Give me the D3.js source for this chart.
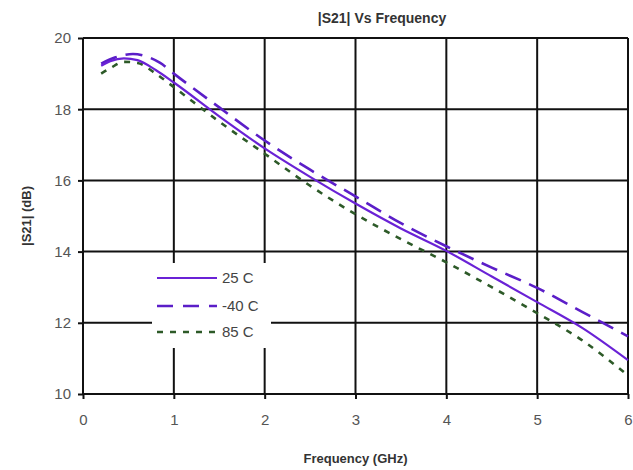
<!DOCTYPE html>
<html>
<head>
<meta charset="utf-8">
<script src="https://cdn.jsdelivr.net/npm/d3@7"></script>
<style>
  body { margin: 0; background: #fff; }
  svg { font-family: "Liberation Sans", Arial, sans-serif; }
</style>
</head>
<body>
<div id="chart"></div>
<script>
// frequency points (GHz) and |S21| (dB) per temperature
const freq25 = [0.2, 0.3, 0.45, 0.6, 0.8, 1, 1.5, 2, 2.5, 3, 3.5, 4, 4.5, 5, 5.5, 6];
const s21_25 = [19.22, 19.35, 19.43, 19.38, 19.1, 18.75, 17.8, 16.9, 16.1, 15.35, 14.65, 14.02, 13.3, 12.58, 11.85, 10.95];

const freqM40 = [0.2, 0.35, 0.55, 0.7, 0.85, 1, 1.5, 2, 2.5, 3, 3.5, 4, 4.5, 5, 5.5, 6];
const s21_m40 = [19.28, 19.45, 19.55, 19.48, 19.3, 19.0, 18.05, 17.12, 16.3, 15.55, 14.8, 14.15, 13.55, 12.98, 12.3, 11.62];

const freq85 = [0.2, 0.3, 0.45, 0.6, 0.8, 1, 1.5, 2, 2.5, 3, 3.5, 4, 4.5, 5, 5.5, 6];
const s21_85 = [19.0, 19.15, 19.33, 19.3, 19.0, 18.62, 17.65, 16.75, 15.85, 15.05, 14.35, 13.7, 13.0, 12.27, 11.5, 10.52];

const xTicks = [0, 1, 2, 3, 4, 5, 6];
const yTicks = [10, 12, 14, 16, 18, 20];
const seriesNames = ["25 C", "-40 C", "85 C"];

const width = 633, height = 470;
const margin = { top: 38, right: 5, bottom: 76, left: 83 };

const svg = d3.select("#chart").append("svg")
  .attr("width", width)
  .attr("height", height);

const x = d3.scaleLinear().domain([0, 6]).range([margin.left, width - margin.right]);
const y = d3.scaleLinear().domain([10, 20]).range([height - margin.bottom, margin.top]);

// grid
const grid = svg.append("g").attr("stroke", "#111").attr("stroke-width", 2);
grid.selectAll(".vg").data(xTicks).enter().append("line")
  .attr("x1", d => x(d)).attr("x2", d => x(d))
  .attr("y1", y(10)).attr("y2", y(20));
grid.selectAll(".hg").data(yTicks).enter().append("line")
  .attr("x1", x(0)).attr("x2", x(6))
  .attr("y1", d => y(d)).attr("y2", d => y(d));

// axes (tick marks + labels)
const xAxis = svg.append("g")
  .attr("transform", `translate(0,${y(10)})`)
  .call(d3.axisBottom(x).tickValues(xTicks).tickSize(5).tickPadding(15).tickFormat(d3.format("d")));
const yAxis = svg.append("g")
  .attr("transform", `translate(${x(0)},0)`)
  .call(d3.axisLeft(y).tickValues(yTicks).tickSize(5).tickPadding(7).tickFormat(d3.format("d")));
[xAxis, yAxis].forEach(a => {
  a.select(".domain").remove();
  a.selectAll(".tick line").attr("stroke", "#111").attr("stroke-width", 2);
  a.selectAll(".tick text").attr("fill", "#555").style("font-size", "15px")
    .style("font-family", "'Liberation Sans', Arial, sans-serif");
});

// legend box hides the grid under it
const legendBox = { x0: 152, y0: 263, x1: 271, y1: 348 };
svg.append("rect")
  .attr("x", legendBox.x0).attr("y", legendBox.y0)
  .attr("width", legendBox.x1 - legendBox.x0).attr("height", legendBox.y1 - legendBox.y0)
  .attr("fill", "#fff");

const series = [
  { name: seriesNames[0], xs: freq25, ys: s21_25, color: "#6a22d6", dash: null, w: 2.2 },
  { name: seriesNames[1], xs: freqM40, ys: s21_m40, color: "#5b1ec8", dash: "17,9", w: 2.6 },
  { name: seriesNames[2], xs: freq85, ys: s21_85, color: "#2d5a28", dash: "6,7", w: 2.6 }
];

const line = d3.line()
  .x(d => x(d[0]))
  .y(d => y(d[1]))
  .curve(d3.curveMonotoneX);

// draw -40 first so solid sits on top
[series[1], series[2], series[0]].forEach(s => {
  svg.append("path")
    .datum(s.xs.map((f, i) => [f, s.ys[i]]))
    .attr("fill", "none")
    .attr("stroke", s.color)
    .attr("stroke-width", s.w)
    .attr("stroke-dasharray", s.dash)
    .attr("d", line);
});

// legend
const legendY = [278, 306, 332];
const lg = svg.append("g");
series.forEach((s, i) => {
  lg.append("line")
    .attr("x1", 157).attr("x2", 217)
    .attr("y1", legendY[i]).attr("y2", legendY[i])
    .attr("stroke", s.color)
    .attr("stroke-width", s.w)
    .attr("stroke-dasharray", i === 1 ? "16,10" : (i === 2 ? "6,7" : null));
  lg.append("text")
    .attr("x", 222).attr("y", legendY[i])
    .attr("dy", "0.35em")
    .attr("fill", "#444")
    .style("font-size", "15px")
    .text(s.name);
});

// titles
svg.append("text")
  .attr("x", 382).attr("y", 23)
  .attr("text-anchor", "middle")
  .attr("fill", "#333")
  .style("font-size", "14px")
  .style("font-weight", "bold")
  .text("|S21| Vs Frequency");

svg.append("text")
  .attr("x", (x(0) + x(6)) / 2).attr("y", 463)
  .attr("text-anchor", "middle")
  .attr("fill", "#333")
  .style("font-size", "13px")
  .style("font-weight", "bold")
  .text("Frequency (GHz)");

svg.append("text")
  .attr("transform", `translate(31,${(y(10) + y(20)) / 2}) rotate(-90)`)
  .attr("text-anchor", "middle")
  .attr("fill", "#333")
  .style("font-size", "13px")
  .style("font-weight", "bold")
  .text("|S21| (dB)");
</script>
</body>
</html>
